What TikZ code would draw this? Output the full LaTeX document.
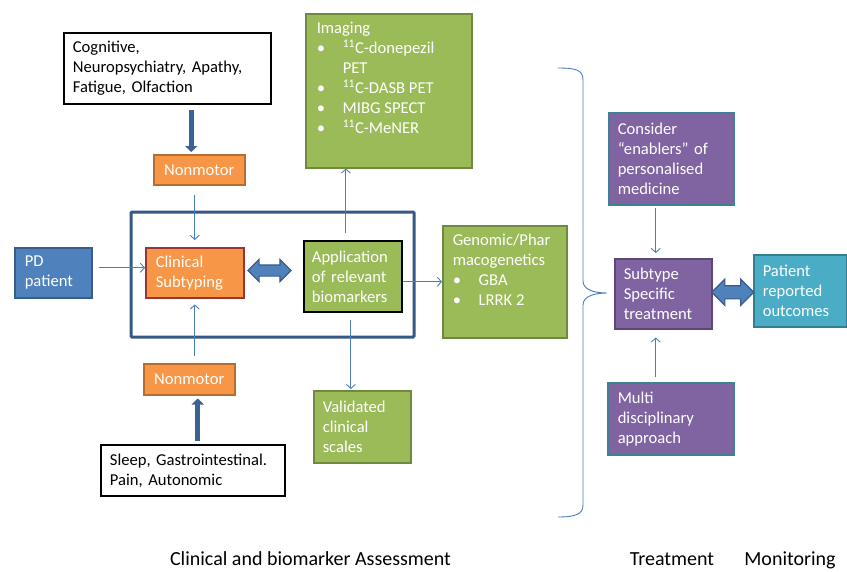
\documentclass[tikz,border=0pt]{standalone}
\usepackage{fontspec}
\setmainfont{Carlito}
\usetikzlibrary{arrows.meta,shapes.arrows,calc}
\frenchspacing

\definecolor{orangefill}{HTML}{F79646}
\definecolor{orangeline}{HTML}{B66D31}
\definecolor{redline}{HTML}{953735}
\definecolor{greenfill}{HTML}{9BBB59}
\definecolor{greenline}{HTML}{71893F}
\definecolor{purplefill}{HTML}{8064A2}
\definecolor{purpleline}{HTML}{5C4776}
\definecolor{tealline}{HTML}{3C8196}
\definecolor{bluefill}{HTML}{4F81BD}
\definecolor{blueline}{HTML}{385D8A}
\definecolor{aquafill}{HTML}{4BACC6}
\definecolor{aqualine}{HTML}{357D91}
\definecolor{connblue}{HTML}{4A7EBB}
\definecolor{fatblue}{HTML}{3C6295}

\newcommand{\bitem}[1]{\makebox[26pt][l]{\textbullet}#1}

\begin{document}
\begin{tikzpicture}[x=1pt,y=-1pt,
  box/.style={anchor=north west, inner xsep=9pt, inner ysep=2pt, align=left,
    line width=1.5pt, font=\fontsize{16.6}{20}\selectfont},
  wbox/.style={box, draw=black, line width=1.8pt, fill=white, text=black},
  obox/.style={box, draw=orangeline, fill=orangefill, text=white},
  gbox/.style={box, draw=greenline, fill=greenfill, text=white},
  pbox/.style={box, draw=tealline, fill=purplefill, text=white},
  conn/.style={draw=connblue, line width=0.9pt, -{Straight Barb[length=4pt,width=9pt]}},
  fatarrow/.style={draw=fatblue, line width=5pt, -{Triangle[length=6pt,width=12pt]}},
  dblarrow/.style={double arrow, draw=blueline, fill=bluefill, line width=1.2pt},
  caption/.style={anchor=base, font=\fontsize{20}{24}\selectfont}]
\useasboundingbox (0,0) rectangle (847,571);

% clinical and biomarker assessment
\node[wbox, minimum width=207pt, minimum height=71pt, text width=189pt] (cog) at (63,32)
  {Cognitive,\\ Neuropsychiatry, Apathy,\\ Fatigue, Olfaction};
\node[obox, minimum width=91pt, minimum height=30pt, align=center] (nmtop) at (153,154) {Nonmotor};
\draw[draw=fatblue!90!black, line width=3pt, rounded corners=1pt] (131,212) rectangle (414,337);
\node[box, draw=blueline, fill=bluefill, text=white, minimum width=77pt, minimum height=50pt,
  inner xsep=10pt, text width=57pt] (pd) at (14,247) {PD\\ patient};
\node[obox, draw=redline, minimum width=98pt, minimum height=50pt, inner xsep=10pt,
  text width=78pt] (clin) at (145,247) {Clinical\\ Subtyping};
\node[gbox, draw=black, line width=1.8pt, minimum width=98pt, minimum height=71pt,
  inner xsep=8pt, text width=82pt] (app) at (303,240) {Application\\ of relevant\\ biomarkers};
\node[gbox, minimum width=166pt, minimum height=154pt, inner xsep=11pt, inner ysep=0pt] (imaging) at (305,13)
  {\parbox[t][154pt][t]{144pt}{\rule{0pt}{20pt}Imaging\\
   \bitem{\textsuperscript{11}C-donepezil}\\ \hspace*{26pt}PET\\
   \bitem{\textsuperscript{11}C-DASB PET}\\ \bitem{MIBG SPECT}\\
   \bitem{\textsuperscript{11}C-MeNER}}};
\node[gbox, minimum width=124pt, minimum height=112pt, inner xsep=10pt, inner ysep=0pt] (gen) at (442,225)
  {\parbox[t][112pt][t]{104pt}{\rule{0pt}{20pt}Genomic/Phar\\ macogenetics\\
   \bitem{GBA}\\ \bitem{LRRK 2}}};
\node[gbox, minimum width=97pt, minimum height=72pt, text width=79pt] (val) at (313,390)
  {Validated\\ clinical\\ scales};
\node[obox, minimum width=91pt, minimum height=31pt, align=center] (nmbot) at (143,363) {Nonmotor};
\node[wbox, minimum width=184pt, minimum height=51pt, text width=166pt] (sleep) at (100,444)
  {Sleep, Gastrointestinal.\\ Pain, Autonomic};
\node[dblarrow, minimum height=43pt, inner sep=5pt, double arrow head extend=5.5pt] (dbl1) at (269.5,270.5) {};

% treatment and monitoring
\draw[draw=connblue, line width=0.9pt] (558,68) .. controls (576,68) and (583,70) .. (583,80)
  -- (583,281) .. controls (583,290) and (595,293) .. (607,293)
  .. controls (595,293) and (583,296) .. (583,305)
  -- (583,505) .. controls (583,514) and (576,517) .. (558,517);
\node[pbox, minimum width=125pt, minimum height=92pt, text width=107pt] (consider) at (608,112)
  {Consider\\ “enablers” of\\ personalised\\ medicine};
\node[pbox, draw=purpleline, minimum width=97pt, minimum height=70pt, text width=79pt] (subtype) at (614,258)
  {Subtype\\ Specific\\ treatment};
\node[box, draw=aqualine, fill=aquafill, text=white, minimum width=93pt, minimum height=72pt,
  text width=75pt] (patient) at (753,254) {Patient\\ reported\\ outcomes};
\node[pbox, minimum width=126pt, minimum height=72pt, inner xsep=10pt, text width=106pt] (multi) at (607,382)
  {Multi\\ disciplinary\\ approach};
\node[dblarrow, minimum height=42pt, inner sep=6pt, double arrow head extend=6.5pt] (dbl2)
  at ($(subtype.east)!0.5!(patient.west)$) {};

% connectors
\draw[fatarrow, shorten <=5pt, shorten >=2pt] ([xshift=-8pt]nmtop.north |- cog.south) -- ([xshift=-8pt]nmtop.north);
\draw[fatarrow, shorten <=3pt, shorten >=3pt] ([xshift=8.5pt]nmbot.south |- sleep.north) -- ([xshift=8.5pt]nmbot.south);
\draw[conn, shorten <=9pt, shorten >=7pt] (nmtop.south -| clin.north) -- (clin.north);
\draw[conn, shorten <=7pt, shorten >=6pt] (nmbot.north -| clin.south) -- (clin.south);
\draw[conn, shorten <=6pt] ([yshift=5pt]pd.east) -- ([yshift=5pt]pd.east -| clin.west);
\draw[conn, shorten <=7pt] ([xshift=-7pt]app.north) -- ([xshift=-7pt]app.north |- imaging.south);
\draw[conn] (app.east |- gen.west) -- (gen.west);
\draw[conn, shorten <=7pt, shorten >=1pt] ([xshift=-2pt]app.south) -- ([xshift=-2pt]app.south |- val.north);
\draw[conn, shorten <=2pt, shorten >=5pt] ([xshift=-7.5pt]subtype.north |- consider.south) -- ([xshift=-7.5pt]subtype.north);
\draw[conn, shorten <=5pt, shorten >=8pt] ([xshift=-7.5pt]subtype.south |- multi.north) -- ([xshift=-7.5pt]subtype.south);

% captions
\node[caption] (cap1) at (310.5,565) {Clinical and biomarker Assessment};
\node[caption] (cap2) at (672,565) {Treatment};
\node[caption] (cap3) at (790,565) {Monitoring};
\end{tikzpicture}
\end{document}
